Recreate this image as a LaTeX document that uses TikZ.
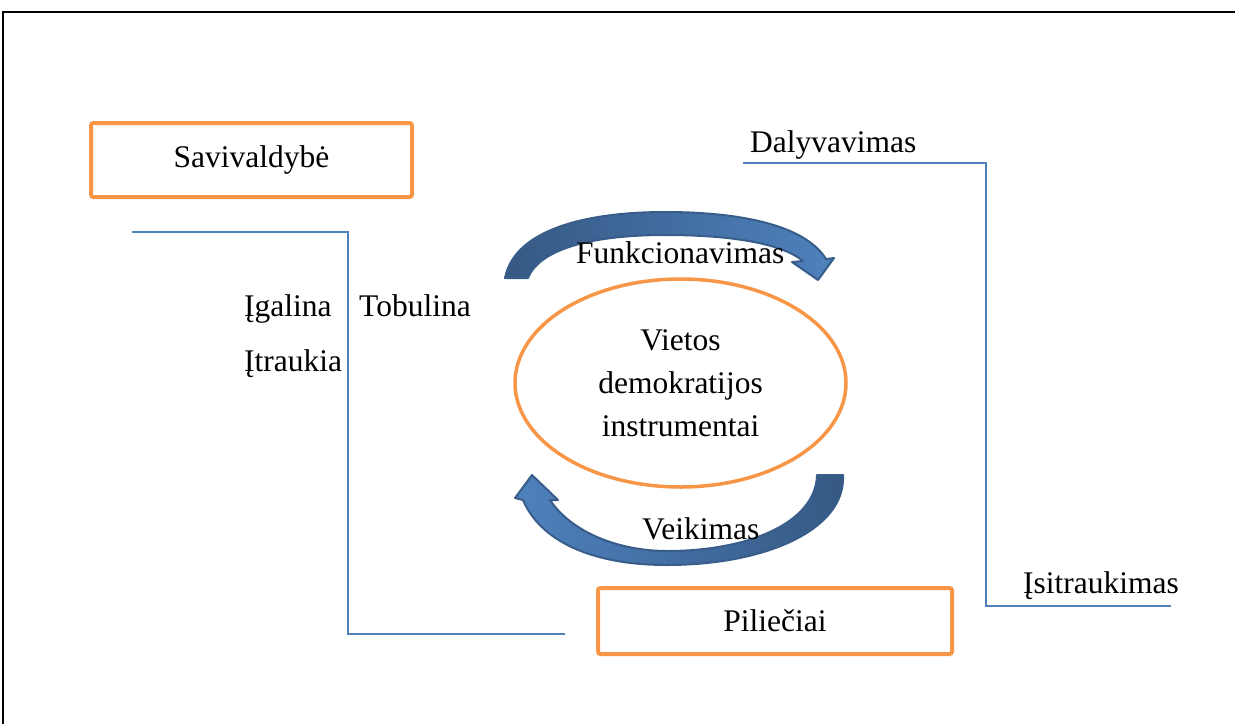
\documentclass[tikz,border=0pt]{standalone}
\usepackage{fontspec}
\setmainfont{Liberation Serif}
\usetikzlibrary{shapes.geometric}
\definecolor{orng}{HTML}{F79646}
\definecolor{lblue}{HTML}{4F81BD}
\definecolor{dblue}{HTML}{385D8A}
\tikzset{
  box/.style={draw=orng, line width=4pt, rounded corners=2.5pt, inner sep=0pt, font=\fontsize{31.5}{38}\selectfont},
  lbl/.style={anchor=base west, inner sep=0pt, font=\fontsize{31.5}{38}\selectfont},
  bline/.style={draw=lblue, line width=1.6pt},
  band/.style={draw=dblue, line width=2pt, line join=round},
}
\begin{document}
\begin{tikzpicture}[x=1pt,y=-1pt]
\useasboundingbox (0,0) rectangle (1235,724);
% frame
\draw[line width=2.6pt] (3,12) -- (1235,12);
\draw[line width=1.2pt] (3,11) -- (3,724);

% boxes
\node[box, minimum width=321pt, minimum height=74pt] (sav) at (251.5,160) {Savivaldybė};
\node[box, minimum width=354pt, minimum height=66pt] (pil) at (775,621) {Piliečiai};

% ellipse
\node[ellipse, draw=orng, line width=3.5pt, minimum width=331pt, minimum height=208pt, inner sep=0pt, align=center, font=\fontsize{31.5}{43}\selectfont] (inst) at (680.5,383) {Vietos\\demokratijos\\instrumentai};

% blue bracket lines
\coordinate (l1) at (132,232);
\coordinate (l2) at (348,232);
\coordinate (l3) at (348,634);
\coordinate (l4) at (565,634);
\draw[bline] (l1) -- (l2) -- (l3) -- (l4);
\coordinate (r1) at (743,163);
\coordinate (r2) at (986,163);
\coordinate (r3) at (986,606);
\coordinate (r4) at (1171,606);
\draw[bline] (r1) -- (r2) -- (r3) -- (r4);

% labels
\node[lbl] (dal) at (750,152) {Dalyvavimas};
\node[lbl] (isi) at (1023,593) {Įsitraukimas};
\node[lbl] (iga) at (244,316) {Įgalina};
\node[lbl] (itr) at (244,371) {Įtraukia};
\node[lbl] (tob) at (359,316) {Tobulina};

% top curved arrow
\path[band, left color=dblue!95!black, right color=lblue]
  (505,278) .. controls (515,228) and (590,212) .. (665,212)
  .. controls (740,212) and (805,225) .. (826,259)
  -- (834,258) -- (818,280) -- (792,262) -- (803,261)
  .. controls (780,242) and (725,235) .. (665,235)
  .. controls (595,235) and (540,248) .. (528,278) -- cycle;
\node[lbl] (fun) at (576,263) {Funkcionavimas};

% bottom curved arrow
\path[band, left color=lblue, right color=dblue!95!black]
  (843,475) .. controls (846,530) and (765,565) .. (667,565)
  .. controls (590,565) and (540,540) .. (523,500)
  -- (515,498) -- (532,475) -- (558,500) -- (550,500)
  .. controls (572,533) and (620,551) .. (667,551)
  .. controls (750,551) and (816,522) .. (817,475) -- cycle;
\node[lbl] (vei) at (642,539) {Veikimas};
\end{tikzpicture}
\end{document}
